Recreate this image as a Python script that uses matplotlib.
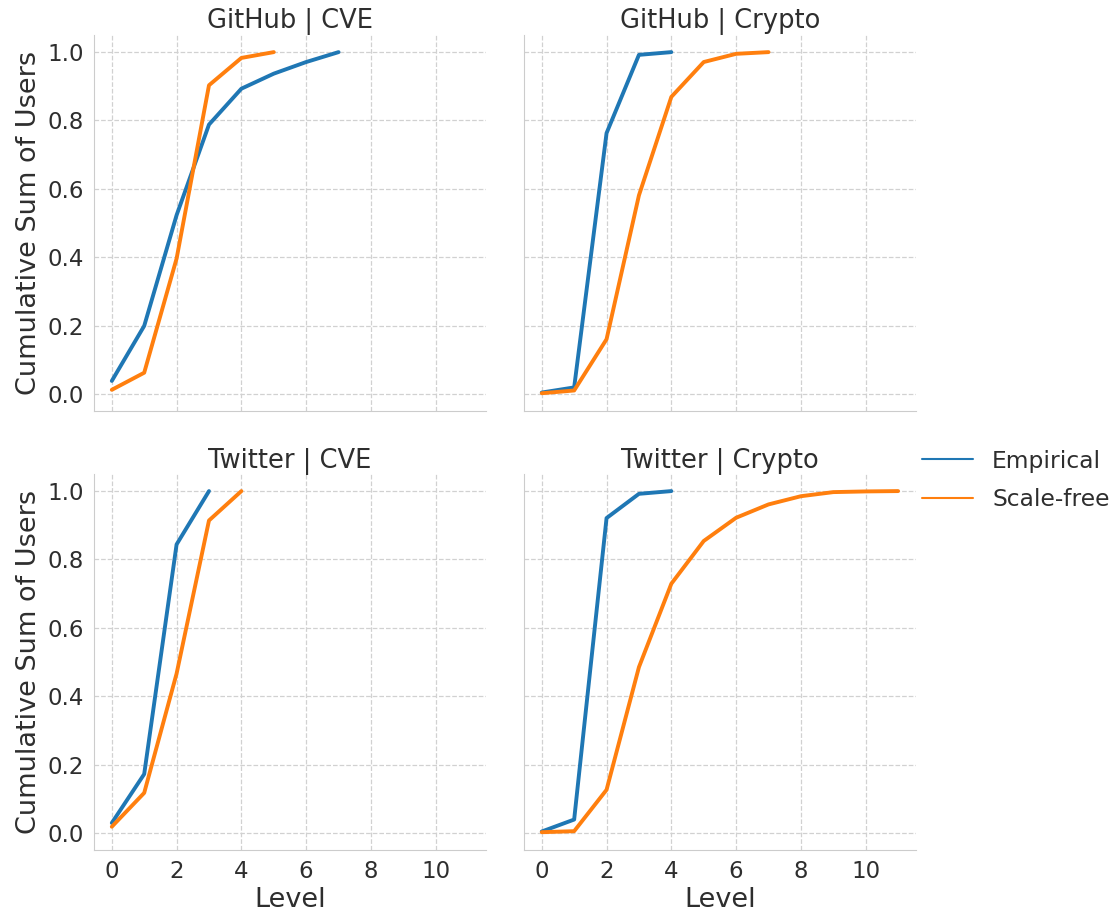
import numpy as np
import matplotlib.pyplot as plt
import seaborn as sns
from matplotlib.lines import Line2D

sns.set_style("whitegrid", {"grid.linestyle": "--", "axes.edgecolor": ".8"})
plt.rcParams['font.family'] = ['DejaVu Sans']

# Cumulative sum of users per level
gh_cve_emp = [0.038, 0.199, 0.523, 0.788, 0.893, 0.937, 0.971, 1.0]
gh_cve_sf = [0.012, 0.062, 0.396, 0.903, 0.983, 1.0]
gh_crypto_emp = [0.004, 0.019, 0.763, 0.992, 1.0]
gh_crypto_sf = [0.002, 0.010, 0.160, 0.581, 0.869, 0.971, 0.995, 1.0]
tw_cve_emp = [0.029, 0.172, 0.844, 1.0]
tw_cve_sf = [0.018, 0.117, 0.466, 0.914, 1.0]
tw_crypto_emp = [0.004, 0.039, 0.921, 0.992, 1.0]
tw_crypto_sf = [0.002, 0.005, 0.126, 0.485, 0.729, 0.854, 0.922, 0.961, 0.985, 0.997, 0.999, 1.0]

panels = [
    ("GitHub | CVE", gh_cve_emp, gh_cve_sf),
    ("GitHub | Crypto", gh_crypto_emp, gh_crypto_sf),
    ("Twitter | CVE", tw_cve_emp, tw_cve_sf),
    ("Twitter | Crypto", tw_crypto_emp, tw_crypto_sf),
]

blue = "#1f77b4"
orange = "#ff7f0e"
txt = "#2e2e2e"

fig = plt.figure(figsize=(11.11, 9.17), dpi=100)
lefts = [0.0846, 0.4716]
bottoms = [0.5518, 0.0731]
for i, (title, emp, sf) in enumerate(panels):
    r, c = divmod(i, 2)
    ax = fig.add_axes([lefts[c], bottoms[r], 0.3528, 0.410])
    ax.plot(np.arange(len(emp)), emp, color=blue, lw=2.8)
    ax.plot(np.arange(len(sf)), sf, color=orange, lw=2.8)
    ax.set_title(title, fontsize=18.5, color=txt, pad=4)
    ax.set_xlim(-0.55, 11.55)
    ax.set_ylim(-0.05, 1.05)
    ax.set_xticks([0, 2, 4, 6, 8, 10])
    ax.set_yticks([0.0, 0.2, 0.4, 0.6, 0.8, 1.0])
    ax.tick_params(labelsize=16.5, colors=txt)
    ax.grid(True, color=".82", linestyle="--", lw=0.9)
    for s in ["top", "right"]:
        ax.spines[s].set_visible(False)
    if c == 0:
        ax.set_ylabel("Cumulative Sum of Users", fontsize=19.5, color=txt)
    else:
        ax.set_yticklabels([])
    if r == 1:
        ax.set_xlabel("Level", fontsize=19.5, color=txt, labelpad=3)
    else:
        ax.set_xticklabels([])

handles = [Line2D([], [], color=blue, lw=1.5), Line2D([], [], color=orange, lw=1.5)]
leg = fig.legend(handles, ["Empirical", "Scale-free"], loc="center left",
                 bbox_to_anchor=(0.811, 0.476), frameon=False, fontsize=16.8,
                 handlelength=2.2, labelspacing=0.68)
for t in leg.get_texts():
    t.set_color(txt)

plt.savefig("out.png", dpi=100)
